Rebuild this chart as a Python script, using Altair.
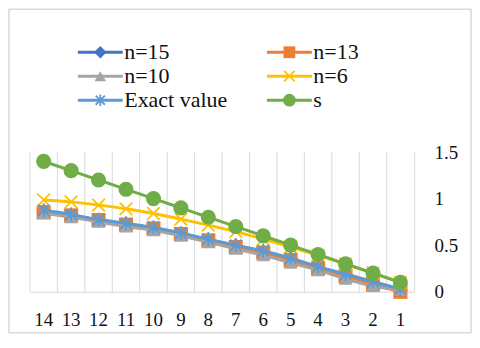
import altair as alt
import pandas as pd

# ---- data ----
categories = [14, 13, 12, 11, 10, 9, 8, 7, 6, 5, 4, 3, 2, 1]
series_names = ["n=15", "n=13", "n=10", "n=6", "Exact value", "s"]
n15 = [0.865, 0.825, 0.77, 0.73, 0.685, 0.625, 0.56, 0.495, 0.43, 0.355, 0.265, 0.185, 0.10, 0.02]
n13 = [0.855, 0.82, 0.77, 0.72, 0.68, 0.62, 0.55, 0.48, 0.42, 0.34, 0.25, 0.17, 0.08, 0.0]
n10 = [0.84, 0.80, 0.75, 0.70, 0.66, 0.60, 0.53, 0.46, 0.39, 0.31, 0.23, 0.14, 0.06, 0.02]
n6 = [0.985, 0.965, 0.93, 0.89, 0.84, 0.78, 0.715, 0.645, 0.565, 0.48, 0.39, 0.295, 0.2, 0.1]
exact = [0.875, 0.83, 0.775, 0.735, 0.69, 0.63, 0.565, 0.50, 0.44, 0.36, 0.27, 0.19, 0.11, 0.03]
s_vals = [1.4, 1.3, 1.2, 1.1, 1.0, 0.9, 0.8, 0.7, 0.6, 0.5, 0.4, 0.3, 0.2, 0.1]
y_ticks = [0, 0.5, 1, 1.5]
legend_col = [0, 1, 0, 1, 0, 1]
legend_row = [0, 0, 1, 1, 2, 2]

# ---- styles ----
colors = ["#4472C4", "#ED7D31", "#A5A5A5", "#FFC000", "#5B9BD5", "#70AD47"]
X_PATH = "M-1,-1L1,1M-1,1L1,-1"
STAR_PATH = "M0,-1L0,1M-0.8,-0.8L0.8,0.8M-0.8,0.8L0.8,-0.8"
markers = [
    dict(shape="diamond", filled=True, size=220),
    dict(shape="square", filled=True, size=200),
    dict(shape="triangle-up", filled=True, size=190),
    dict(shape=X_PATH, filled=False, size=160, strokeWidth=1.8),
    dict(shape=STAR_PATH, filled=False, size=190, strokeWidth=1.8),
    dict(shape="circle", filled=True, size=230),
]
FONT = "'Liberation Serif', 'Times New Roman', serif"
GRID = "#D9D9D9"
TXT = "#111111"

cat_labels = [str(c) for c in categories]
all_vals = [n15, n13, n10, n6, exact, s_vals]

xscale = alt.Scale(type="band", range=[21, 406], paddingInner=0, paddingOuter=0)
yscale = alt.Scale(domain=[0, 1.5], range=[283, 143])
xaxis = alt.Axis(title=None, orient="bottom", offset=-41, ticks=False, tickSize=0,
                 domainColor=GRID, grid=False, labelPadding=19, labelFont=FONT,
                 labelFontSize=19, labelColor=TXT, labelAngle=0, labelOverlap=False)
yaxis = alt.Axis(title=None, orient="right", offset=-57, ticks=False, tickSize=0,
                 domainColor=GRID, grid=False, values=y_ticks, format="~g",
                 labelPadding=20, labelFont=FONT, labelFontSize=19, labelColor=TXT,
                 labelAlign="left")


def xenc(band):
    return alt.X("cat:O", sort=cat_labels, scale=xscale, axis=xaxis, bandPosition=band)


def yenc():
    return alt.Y("value:Q", scale=yscale, axis=yaxis)


grid_df = pd.DataFrame({"cat": cat_labels})
grid = alt.Chart(grid_df).mark_rule(color=GRID, strokeWidth=1).encode(
    x=xenc(0),
    y=alt.Y(datum=0, scale=yscale, axis=yaxis),
    y2=alt.datum(1.5),
)

main_layers = [grid]
for name, vals, col, mk in zip(series_names, all_vals, colors, markers):
    df = pd.DataFrame({"cat": cat_labels, "value": vals, "series": name})
    base = alt.Chart(df)
    line = base.mark_line(color=col, strokeWidth=3, interpolate="monotone").encode(
        x=xenc(0.5), y=yenc())
    if mk["filled"]:
        pt = base.mark_point(shape=mk["shape"], filled=True, size=mk["size"],
                             color=col, opacity=1)
    else:
        pt = base.mark_point(shape=mk["shape"], filled=False, size=mk["size"],
                             color=col, strokeWidth=mk["strokeWidth"], opacity=1)
    pt = pt.encode(x=xenc(0.5), y=yenc())
    main_layers += [line, pt]

main = alt.layer(*main_layers)

# ---- legend built from data ----
leg_df = pd.DataFrame({"series": series_names, "col": legend_col, "row": legend_row})
lx = alt.X("col:Q", scale=alt.Scale(domain=[0, 1], range=[91.5, 281]), axis=None)
ly = alt.Y("row:Q", scale=alt.Scale(domain=[0, 2], range=[43, 91]), axis=None)
leg_layers = []
for name, col, mk in zip(series_names, colors, markers):
    b = alt.Chart(leg_df).transform_filter(alt.datum.series == name)
    tick = b.mark_tick(orient="horizontal", size=45, thickness=3, color=col,
                       opacity=1).encode(x=lx, y=ly)
    if mk["filled"]:
        p = b.mark_point(shape=mk["shape"], filled=True, size=mk["size"] * 0.7,
                         color=col, opacity=1)
    else:
        p = b.mark_point(shape=mk["shape"], filled=False, size=mk["size"] * 0.7,
                         color=col, strokeWidth=mk["strokeWidth"], opacity=1)
    leg_layers += [tick, p.encode(x=lx, y=ly)]
txt = alt.Chart(leg_df).mark_text(align="left", baseline="middle", dx=24, font=FONT,
                                  fontSize=22, color=TXT).encode(x=lx, y=ly, text="series:N")
leg_layers.append(txt)
legend = alt.layer(*leg_layers)

chart = alt.layer(main, legend).resolve_scale(x="independent", y="independent").properties(
    width=463, height=324,
    padding={"left": 1, "top": 1, "right": 1, "bottom": 1},
    background="white",
).configure_view(stroke=GRID, strokeWidth=1.5).configure_axis(
    labelFont=FONT, labelFontSize=19, labelColor=TXT
).configure_text(font=FONT)

chart.save("out.html", embed_options={"renderer": "svg", "actions": False})
